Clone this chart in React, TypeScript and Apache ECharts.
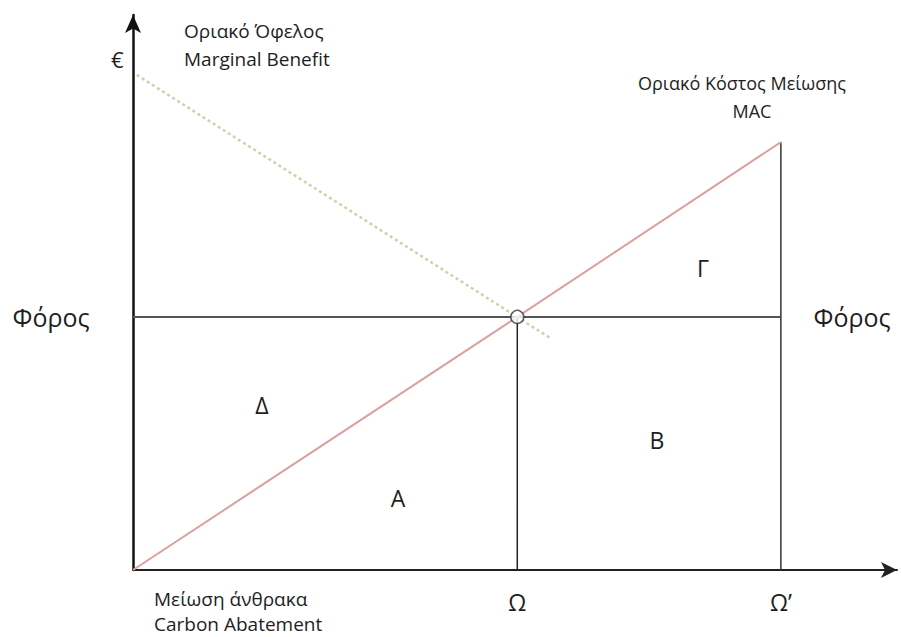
import React, { useEffect, useRef } from "react";
import * as echarts from "echarts";

// Quantities of carbon abatement (x) and euro values (y)
const abatementPoints = [0, 50.3, 84.8]; // origin, Ω, Ω'
const abatementLabels = ["", "Ω", "Ω’"];
const macValues = [0, 45.6, 77.1]; // marginal abatement cost at those quantities
const taxLevel = 45.6;
const mbX = [0.5, 54.6]; // marginal benefit line ends
const mbValues = [89.2, 41.8];

const FONT = "'Open Sans', 'Noto Sans', sans-serif";
const INK = "#1e1e1e";

export default function App() {
  const ref = useRef<HTMLDivElement>(null);
  useEffect(() => {
    document.body.style.margin = "0";
    const chart = echarts.init(ref.current!, null, { renderer: "svg" });
    const omega = abatementPoints[1];
    const omegaP = abatementPoints[2];
    const txt = (text: string, x: number, y: number, size: number, align = "center") => ({
      type: "text",
      x,
      y,
      style: {
        text,
        fontSize: size,
        fontFamily: FONT,
        fill: INK,
        align,
        verticalAlign: "middle",
      },
    });
    chart.setOption({
      animation: false,
      backgroundColor: "#ffffff",
      grid: { left: 133, top: 15, width: 764, height: 555 },
      xAxis: {
        type: "value",
        min: 0,
        max: 100,
        axisLine: {
          show: true,
          lineStyle: { color: "#222", width: 2 },
          symbol: ["none", "arrow"],
          symbolSize: [12, 16],
        },
        axisTick: { show: false },
        splitLine: { show: false },
        axisLabel: {
          show: true,
          customValues: [omega, omegaP],
          formatter: (v: number) => abatementLabels[abatementPoints.indexOf(v)] || "",
          fontSize: 23,
          fontFamily: FONT,
          color: INK,
          margin: 20,
        },
      },
      yAxis: {
        type: "value",
        min: 0,
        max: 100,
        axisLine: {
          show: true,
          lineStyle: { color: "#111", width: 2.5 },
          symbol: ["none", "arrow"],
          symbolSize: [12, 18],
        },
        axisTick: { show: false },
        splitLine: { show: false },
        axisLabel: { show: false },
      },
      series: [
        {
          name: "Marginal Benefit",
          type: "line",
          data: mbX.map((x, i) => [x, mbValues[i]]),
          symbol: "none",
          lineStyle: { color: "#cfd1aa", width: 2.5, type: [3, 3] },
          z: 2,
        },
        {
          name: "Tax",
          type: "line",
          data: [
            [0, taxLevel],
            [omegaP, taxLevel],
          ],
          symbol: "none",
          lineStyle: { color: "#555", width: 2 },
          z: 3,
        },
        {
          name: "Ω",
          type: "line",
          data: [
            [omega, 0],
            [omega, taxLevel],
          ],
          symbol: "none",
          lineStyle: { color: "#222", width: 1.5 },
          z: 3,
        },
        {
          name: "Ω’",
          type: "line",
          data: [
            [omegaP, 0],
            [omegaP, macValues[2]],
          ],
          symbol: "none",
          lineStyle: { color: "#333", width: 1.5 },
          z: 3,
        },
        {
          name: "MAC",
          type: "line",
          data: abatementPoints.map((x, i) => [x, macValues[i]]),
          symbol: "none",
          lineStyle: { color: "#dba0a0", width: 2 },
          z: 4,
        },
        {
          name: "Equilibrium",
          type: "scatter",
          data: [[omega, taxLevel]],
          symbol: "circle",
          symbolSize: 13,
          itemStyle: { color: "#ffffff", borderColor: "#333", borderWidth: 1.5 },
          z: 6,
        },
      ],
      graphic: [
        txt("€", 111, 59, 22, "left"),
        txt("Οριακό Όφελος", 184, 31, 19, "left"),
        txt("Marginal Benefit", 184, 59, 19, "left"),
        txt("Οριακό Κόστος Μείωσης", 742, 83, 18),
        txt("MAC", 752, 111, 18),
        txt("Φόρος", 51, 317, 25),
        txt("Φόρος", 852, 317, 25),
        txt("Γ", 703, 268, 23),
        txt("Δ", 262, 405, 23),
        txt("Α", 398, 498, 23),
        txt("Β", 657, 440, 23),
        txt("Μείωση άνθρακα", 154, 599, 19, "left"),
        txt("Carbon Abatement", 154, 624, 19, "left"),
      ],
    });
    return () => chart.dispose();
  }, []);
  return <div ref={ref} style={{ width: 901, height: 637 }} />;
}
